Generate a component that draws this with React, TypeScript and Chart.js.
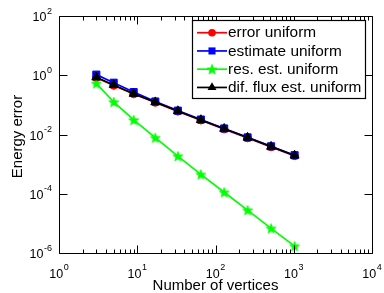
import React, { useEffect, useRef } from "react";
import { Chart, registerables } from "chart.js";

Chart.register(...registerables);

const vertices = [3, 5, 9, 17, 33, 65, 129, 257, 513, 1025];
const errorUniform = [0.82, 0.45, 0.232, 0.12, 0.0605, 0.0303, 0.0152, 0.0076, 0.0038, 0.0019];
const estimateUniform = [1.05, 0.56, 0.27, 0.13, 0.064, 0.032, 0.016, 0.008, 0.004, 0.002];
const resEstUniform = [0.53, 0.125, 0.031, 0.0078, 0.00186, 0.00045, 0.000112, 0.000028, 0.0000068, 0.0000017];
const difFluxEstUniform = [0.85, 0.47, 0.237, 0.124, 0.062, 0.031, 0.0157, 0.0079, 0.0039, 0.00196];

const seriesLabels = ["error uniform", "estimate uniform", "res. est. uniform", "dif. flux est. uniform"];
const xTickExponents = [0, 1, 2, 3, 4];
const yTickExponents = [2, 0, -2, -4, -6];
const xTitle = "Number of vertices";
const yTitle = "Energy error";

const FONT = "'Liberation Sans', Arial, Helvetica, sans-serif";

function makeStar(color: string, r: number): HTMLCanvasElement {
  const size = Math.ceil(r * 2 + 3);
  const c = document.createElement("canvas");
  c.width = size;
  c.height = size;
  const ctx = c.getContext("2d")!;
  const cx = size / 2;
  const cy = size / 2 + 0.5;
  const inner = r * 0.42;
  ctx.beginPath();
  for (let i = 0; i < 10; i++) {
    const rad = i % 2 === 0 ? r : inner;
    const a = -Math.PI / 2 + (i * Math.PI) / 5;
    const px = cx + rad * Math.cos(a);
    const py = cy + rad * Math.sin(a);
    if (i === 0) ctx.moveTo(px, py);
    else ctx.lineTo(px, py);
  }
  ctx.closePath();
  ctx.fillStyle = color;
  ctx.fill();
  ctx.strokeStyle = color;
  ctx.lineWidth = 0.8;
  ctx.stroke();
  return c;
}

function drawPower(ctx: CanvasRenderingContext2D, exp: number, x: number, baseline: number, align: "center" | "right") {
  const base = "10";
  const sup = String(exp);
  ctx.font = `12.5px ${FONT}`;
  const wb = ctx.measureText(base).width;
  ctx.font = `9px ${FONT}`;
  const ws = ctx.measureText(sup).width;
  const total = wb + ws + 0.5;
  const start = align === "center" ? x - total / 2 : x - total;
  ctx.textAlign = "left";
  ctx.textBaseline = "alphabetic";
  ctx.fillStyle = "#000";
  ctx.font = `12.5px ${FONT}`;
  ctx.fillText(base, start, baseline);
  ctx.font = `9px ${FONT}`;
  ctx.fillText(sup, start + wb + 0.5, baseline - 7.5);
}

export default function App() {
  const ref = useRef<HTMLCanvasElement | null>(null);

  useEffect(() => {
    if (!ref.current) return;
    const star = makeStar("#00ff00", 5.2);
    const colors = ["#ff0000", "#0000ff", "#00ff00", "#000000"];
    const styles: any[] = ["circle", "rect", star, "triangle"];
    const radii = [3.8, 5, 5.2, 5.2];
    const values = [errorUniform, estimateUniform, resEstUniform, difFluxEstUniform];
    const orders = [3, 2, 1, 0];

    const datasets = values.map((vals, i) => ({
      label: seriesLabels[i],
      data: vertices.map((v, j) => ({ x: v, y: vals[j] })),
      borderColor: colors[i],
      backgroundColor: colors[i],
      borderWidth: 1.7,
      pointStyle: styles[i],
      pointRadius: radii[i],
      pointBorderWidth: 1,
      pointBorderColor: colors[i],
      pointBackgroundColor: colors[i],
      fill: false,
      tension: 0,
      order: orders[i],
    }));

    const framePlugin = {
      id: "frameTicks",
      afterDatasetsDraw(chart: any) {
        const ctx: CanvasRenderingContext2D = chart.ctx;
        const { left, right, top, bottom } = chart.chartArea;
        const xs = chart.scales.x;
        const ys = chart.scales.y;
        const L = Math.round(left) + 0.5;
        const R = Math.round(right) + 0.5;
        const T = Math.round(top) + 0.5;
        const B = Math.round(bottom) + 0.5;
        ctx.save();
        ctx.strokeStyle = "#000";
        ctx.lineWidth = 1;
        ctx.beginPath();
        for (let e = 0; e <= 4; e++) {
          for (let m = 1; m <= 9; m++) {
            if (e === 4 && m > 1) break;
            const v = m * Math.pow(10, e);
            const px = Math.round(xs.getPixelForValue(v)) + 0.5;
            const len = m === 1 ? 8 : 4;
            ctx.moveTo(px, B);
            ctx.lineTo(px, B - len);
            ctx.moveTo(px, T);
            ctx.lineTo(px, T + len);
          }
        }
        for (const e of yTickExponents) {
          const py = Math.round(ys.getPixelForValue(Math.pow(10, e))) + 0.5;
          ctx.moveTo(L, py);
          ctx.lineTo(L + 8, py);
          ctx.moveTo(R, py);
          ctx.lineTo(R - 8, py);
        }
        ctx.stroke();
        ctx.beginPath();
        ctx.rect(L, T, R - L, B - T);
        ctx.stroke();

        for (const e of xTickExponents) {
          const px = xs.getPixelForValue(Math.pow(10, e));
          drawPower(ctx, e, px, 277.5, "center");
        }
        for (const e of yTickExponents) {
          const py = ys.getPixelForValue(Math.pow(10, e));
          drawPower(ctx, e, 52, py + 5, "right");
        }

        ctx.fillStyle = "#000";
        ctx.font = `15px ${FONT}`;
        ctx.textAlign = "center";
        ctx.textBaseline = "alphabetic";
        ctx.fillText(xTitle, (left + right) / 2, 290);
        ctx.save();
        ctx.translate(21.5, (top + bottom) / 2 + 2);
        ctx.rotate(-Math.PI / 2);
        ctx.fillText(yTitle, 0, 0);
        ctx.restore();

        const bx = 192.5, by = 20.5, bw = 173, bh = 78;
        ctx.fillStyle = "#fff";
        ctx.fillRect(bx, by, bw, bh);
        ctx.strokeStyle = "#000";
        ctx.lineWidth = 1.2;
        ctx.strokeRect(bx, by, bw, bh);
        for (let i = 0; i < seriesLabels.length; i++) {
          const y = 32.7 + i * 18.25;
          ctx.strokeStyle = colors[i];
          ctx.lineWidth = 1.7;
          ctx.beginPath();
          ctx.moveTo(197, y);
          ctx.lineTo(227, y);
          ctx.stroke();
          ctx.fillStyle = colors[i];
          const cx = 212;
          const r = radii[i];
          ctx.beginPath();
          if (i === 0) {
            ctx.arc(cx, y, r, 0, Math.PI * 2);
            ctx.fill();
          } else if (i === 1) {
            const s = r * Math.SQRT1_2;
            ctx.fillRect(cx - s, y - s, 2 * s, 2 * s);
          } else if (i === 2) {
            ctx.drawImage(star, cx - star.width / 2, y - star.height / 2);
          } else {
            ctx.moveTo(cx, y - r);
            ctx.lineTo(cx + r * 0.866, y + r * 0.5);
            ctx.lineTo(cx - r * 0.866, y + r * 0.5);
            ctx.closePath();
            ctx.fill();
          }
          ctx.fillStyle = "#000";
          ctx.font = `15.4px ${FONT}`;
          ctx.textAlign = "left";
          ctx.textBaseline = "middle";
          ctx.fillText(seriesLabels[i], 228, y + 0.5);
        }
        ctx.restore();
      },
    };

    const chart = new Chart(ref.current, {
      type: "line",
      data: { datasets },
      options: {
        animation: false,
        responsive: false,
        devicePixelRatio: 1,
        events: [],
        layout: { padding: { left: 59, right: 12, top: 16, bottom: 40 } },
        plugins: { legend: { display: false }, tooltip: { enabled: false }, title: { display: false } },
        scales: {
          x: { type: "logarithmic", min: 1, max: 10000, display: false },
          y: { type: "logarithmic", min: 1e-6, max: 100, display: false },
        },
      },
      plugins: [framePlugin],
    } as any);
    return () => chart.destroy();
  }, []);

  return (
    <div style={{ position: "absolute", left: 0, top: 0, width: 384, height: 293, background: "#fff" }}>
      <canvas ref={ref} width={384} height={293} style={{ display: "block", width: 384, height: 293 }} />
    </div>
  );
}
